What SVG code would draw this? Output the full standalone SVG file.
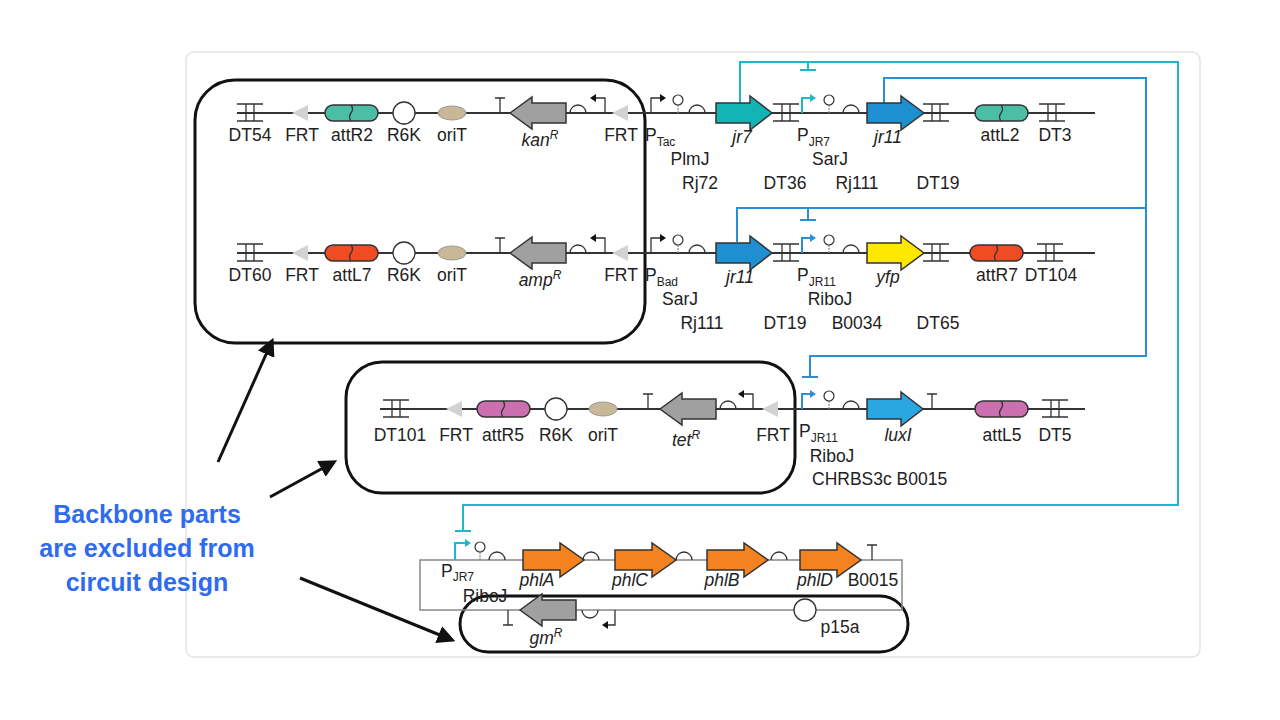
<svg xmlns="http://www.w3.org/2000/svg" width="1280" height="720" viewBox="0 0 1280 720">
<defs>
<style>
text{font-family:"Liberation Sans",Arial,sans-serif;font-size:17.5px;fill:#222;text-anchor:middle}
.i{font-style:italic}
.s{text-anchor:start}
.sub{font-size:12px}
.ln{stroke:#333;stroke-width:2;fill:none}
.thin{stroke:#333;stroke-width:1.3;fill:none}
.box{fill:none;stroke:#111;stroke-width:3}
.frt{fill:#d2d2d2}
.gene{stroke:#333;stroke-width:1.5}
.cy{stroke:#1fb8c8;stroke-width:2;fill:none}
.bl{stroke:#2a8fd6;stroke-width:2;fill:none}
.blk{stroke:#111;stroke-width:3;fill:none}
</style>
<symbol id="dt" overflow="visible"><path d="M-13,-9H13M-13,8H13M-4,-9V8M4,-9V8" class="thin"/></symbol>
<symbol id="t" overflow="visible"><path d="M0,0V-15M-5,-15H5" class="thin"/></symbol>
<symbol id="rbs" overflow="visible"><path d="M-8,0A8,8 0 0 1 8,0" class="thin"/></symbol>
<symbol id="lol" overflow="visible"><path d="M0,0V-9" stroke="#888" stroke-width="1.2" stroke-dasharray="2,1"/><circle cx="0" cy="-13" r="5" fill="#fff" stroke="#333" stroke-width="1.2"/></symbol>
<symbol id="rp" overflow="visible"><path d="M0,0V-15H-10" class="thin"/><path d="M-15,-15L-9,-19V-11Z" fill="#111"/></symbol>
<symbol id="fp" overflow="visible"><path d="M0,0V-15H10" class="thin"/><path d="M15,-15L9,-19V-11Z" fill="#111"/></symbol>
<symbol id="ftri" overflow="visible"><path d="M-8,0L8,-8V8Z" class="frt"/></symbol>
<symbol id="r6k" overflow="visible"><circle r="11" fill="#fff" stroke="#333" stroke-width="1.3"/></symbol>
<symbol id="ori" overflow="visible"><ellipse rx="14" ry="7" fill="#c8b896" stroke="#999" stroke-width="1"/></symbol>
<symbol id="la" overflow="visible"><path d="M0,0L22,-16V-10H56V10H22V16Z" fill="#a0a0a0" class="gene"/></symbol>
<marker id="ah" viewBox="0 0 10 10" refX="8" refY="5" markerWidth="6" markerHeight="6" orient="auto"><path d="M0,0L10,5L0,10Z" fill="#111"/></marker>
</defs>
<rect width="1280" height="720" fill="#fff"/>
<rect x="186" y="52" width="1014" height="605" rx="8" fill="#fff" stroke="#e4e4e4" stroke-width="1.5"/>

<g id="connectors">
<path class="cy" d="M740,103V62H1178V505H463V530M455,531H471M808,62V70M800,70H816"/>
<path class="bl" d="M884,103V78H1146V356H810V376M802,377H818M737,242V208H1146M808,208V220M800,220H816"/>
<path class="blk" d="M218,462L272,341" marker-end="url(#ah)"/>
<path class="blk" d="M270,497L334,462" marker-end="url(#ah)"/>
<path class="blk" d="M300,578L452,640" marker-end="url(#ah)"/>
</g>

<g id="backbone1"><rect x="195" y="80" width="450" height="263" rx="40" class="box"/></g>
<g id="backbone2"><rect x="346" y="362" width="449" height="131" rx="36" class="box"/></g>
<g id="backbone3"><rect x="460" y="596" width="448" height="56" rx="28" class="box"/></g>

<g id="row1">
<path d="M237,113H1095" class="ln"/>
<use href="#dt" x="250" y="113"/><use href="#ftri" x="300" y="113"/>
<rect x="325" y="105" width="53" height="16" rx="8" fill="#4bbfa6" class="gene"/><path d="M351,105q3,4 0,8q-3,4 0,8" class="thin"/>
<use href="#r6k" x="404" y="113"/><use href="#ori" x="452" y="113"/>
<use href="#t" x="500" y="113"/><use href="#la" x="510" y="113"/>
<use href="#rbs" x="578" y="113"/><use href="#rp" x="605" y="113"/><use href="#ftri" x="620" y="113"/>
<text x="250" y="141">DT54</text><text x="302" y="141">FRT</text><text x="352" y="141">attR2</text><text x="404" y="141">R6K</text><text x="452" y="141">oriT</text><text x="540" y="146" class="i">kan<tspan class="sub" dy="-7">R</tspan></text><text x="621" y="141">FRT</text>
<use href="#fp" x="651" y="113"/><use href="#lol" x="678" y="113"/><use href="#rbs" x="697" y="113"/>
<path d="M716,103H750V96L772,113L750,130V123H716Z" fill="#12b4b4" class="gene"/>
<use href="#dt" x="786" y="113"/>
<path d="M802,113V98H810" class="cy"/><path d="M816,98L810,94V102Z" fill="#1fb8c8"/>
<use href="#lol" x="829" y="113"/><use href="#rbs" x="851" y="113"/>
<path d="M867,103H901V96L924,113L901,130V123H867Z" fill="#1e8fd0" class="gene"/>
<use href="#dt" x="936" y="113"/>
<rect x="975" y="105" width="53" height="16" rx="8" fill="#4bbfa6" class="gene"/><path d="M1001,105q3,4 0,8q-3,4 0,8" class="thin"/>
<use href="#dt" x="1052" y="113"/>
<text x="645" y="141" class="s">P<tspan class="sub" dy="5">Tac</tspan></text><text x="690" y="165">PlmJ</text><text x="700" y="189">Rj72</text>
<text x="742" y="143" class="i">jr7</text><text x="785" y="189">DT36</text>
<text x="797" y="141" class="s">P<tspan class="sub" dy="5">JR7</tspan></text><text x="830" y="165">SarJ</text><text x="857" y="189">Rj111</text>
<text x="888" y="143" class="i">jr11</text><text x="938" y="189">DT19</text><text x="1000" y="141">attL2</text><text x="1055" y="141">DT3</text>
</g>

<g id="row2">
<path d="M237,253H1095" class="ln"/>
<use href="#dt" x="250" y="253"/><use href="#ftri" x="300" y="253"/>
<rect x="325" y="245" width="53" height="16" rx="8" fill="#f04c24" class="gene"/><path d="M351,245q3,4 0,8q-3,4 0,8" class="thin"/>
<use href="#r6k" x="404" y="253"/><use href="#ori" x="452" y="253"/>
<use href="#t" x="500" y="253"/><use href="#la" x="510" y="253"/>
<use href="#rbs" x="578" y="253"/><use href="#rp" x="605" y="253"/><use href="#ftri" x="620" y="253"/>
<text x="250" y="281">DT60</text><text x="302" y="281">FRT</text><text x="352" y="281">attL7</text><text x="404" y="281">R6K</text><text x="452" y="281">oriT</text><text x="540" y="286" class="i">amp<tspan class="sub" dy="-7">R</tspan></text><text x="621" y="281">FRT</text>
<use href="#fp" x="651" y="253"/><use href="#lol" x="678" y="253"/><use href="#rbs" x="697" y="253"/>
<path d="M716,243H750V236L772,253L750,270V263H716Z" fill="#1e8fd0" class="gene"/>
<use href="#dt" x="786" y="253"/>
<path d="M802,253V238H810" class="bl"/><path d="M816,238L810,234V242Z" fill="#2a8fd6"/>
<use href="#lol" x="829" y="253"/><use href="#rbs" x="851" y="253"/>
<path d="M867,243H901V236L924,253L901,270V263H867Z" fill="#ffe800" class="gene"/>
<use href="#dt" x="936" y="253"/>
<rect x="970" y="245" width="53" height="16" rx="8" fill="#f04c24" class="gene"/><path d="M996,245q3,4 0,8q-3,4 0,8" class="thin"/>
<use href="#dt" x="1050" y="253"/>
<text x="645" y="281" class="s">P<tspan class="sub" dy="5">Bad</tspan></text><text x="680" y="305">SarJ</text><text x="702" y="329">Rj111</text>
<text x="740" y="283" class="i">jr11</text><text x="785" y="329">DT19</text>
<text x="797" y="281" class="s">P<tspan class="sub" dy="5">JR11</tspan></text><text x="830" y="305">RiboJ</text><text x="857" y="329">B0034</text>
<text x="888" y="283" class="i">yfp</text><text x="938" y="329">DT65</text><text x="997" y="281">attR7</text><text x="1051" y="281">DT104</text>
</g>

<g id="row3">
<path d="M380,409H1085" class="ln"/>
<use href="#dt" x="396" y="409"/><use href="#ftri" x="454" y="409"/>
<rect x="477" y="401" width="53" height="16" rx="8" fill="#cc6fb0" class="gene"/><path d="M503,401q3,4 0,8q-3,4 0,8" class="thin"/>
<use href="#r6k" x="556" y="409"/><use href="#ori" x="603" y="409"/>
<use href="#t" x="648" y="409"/><use href="#la" x="660" y="409"/>
<use href="#rbs" x="728" y="409"/><use href="#rp" x="753" y="409"/><use href="#ftri" x="770" y="409"/>
<text x="400" y="441">DT101</text><text x="456" y="441">FRT</text><text x="503" y="441">attR5</text><text x="556" y="441">R6K</text><text x="603" y="441">oriT</text><text x="686" y="446" class="i">tet<tspan class="sub" dy="-7">R</tspan></text><text x="773" y="441">FRT</text>
<path d="M802,409V394H810" class="bl"/><path d="M816,394L810,390V398Z" fill="#2a8fd6"/>
<use href="#lol" x="829" y="409"/><use href="#rbs" x="851" y="409"/>
<path d="M867,399H901V392L923,409L901,426V419H867Z" fill="#2aa6e0" class="gene"/>
<use href="#t" x="932" y="409"/>
<rect x="975" y="401" width="53" height="16" rx="8" fill="#cc6fb0" class="gene"/><path d="M1001,401q3,4 0,8q-3,4 0,8" class="thin"/>
<use href="#dt" x="1055" y="409"/>
<text x="799" y="437" class="s">P<tspan class="sub" dy="5">JR11</tspan></text><text x="898" y="441" class="i">luxI</text><text x="1002" y="441">attL5</text><text x="1055" y="441">DT5</text>
<text x="832" y="462">RiboJ</text><text x="812" y="485" class="s">CHRBS3c  B0015</text>
</g>

<g id="row4">
<rect x="420" y="560" width="482" height="50" fill="none" stroke="#888" stroke-width="1.5"/>
<path d="M455,560V543H465" class="cy"/><path d="M471,543L465,539V547Z" fill="#1fb8c8"/>
<use href="#lol" x="480" y="560"/><use href="#rbs" x="497" y="560"/>
<path d="M523,550H560V543L584,560L560,577V570H523Z" fill="#f58220" class="gene"/>
<use href="#rbs" x="591" y="560"/>
<path d="M615,550H652V543L676,560L652,577V570H615Z" fill="#f58220" class="gene"/>
<use href="#rbs" x="684" y="560"/>
<path d="M707,550H744V543L768,560L744,577V570H707Z" fill="#f58220" class="gene"/>
<use href="#rbs" x="779" y="560"/>
<path d="M800,550H837V543L861,560L837,577V570H800Z" fill="#f58220" class="gene"/>
<use href="#t" x="872" y="560"/>
<path d="M508,610V625M503,625H513" class="thin"/>
<use href="#la" x="520" y="610"/>
<path d="M582,610A8,8 0 0 0 598,610" class="thin"/>
<path d="M615,610V625H608" class="thin"/><path d="M602,625L608,621V629Z" fill="#111"/>
<circle cx="805" cy="610" r="11" fill="#fff" stroke="#333" stroke-width="1.3"/>
<text x="441" y="577" class="s">P<tspan class="sub" dy="4">JR7</tspan></text><text x="485" y="602">RiboJ</text>
<text x="537" y="586" class="i">phlA</text><text x="630" y="586" class="i">phlC</text><text x="722" y="586" class="i">phlB</text><text x="815" y="586" class="i">phlD</text><text x="873" y="586">B0015</text>
<text x="546" y="644" class="i">gm<tspan class="sub" dy="-7">R</tspan></text><text x="840" y="633">p15a</text>
</g>

<g id="legend">
<text x="147" y="523" style="fill:#2f6bef;font-size:25px;font-weight:bold">Backbone parts</text>
<text x="147" y="557" style="fill:#2f6bef;font-size:25px;font-weight:bold">are excluded from</text>
<text x="147" y="591" style="fill:#2f6bef;font-size:25px;font-weight:bold">circuit design</text>
</g>
</svg>
